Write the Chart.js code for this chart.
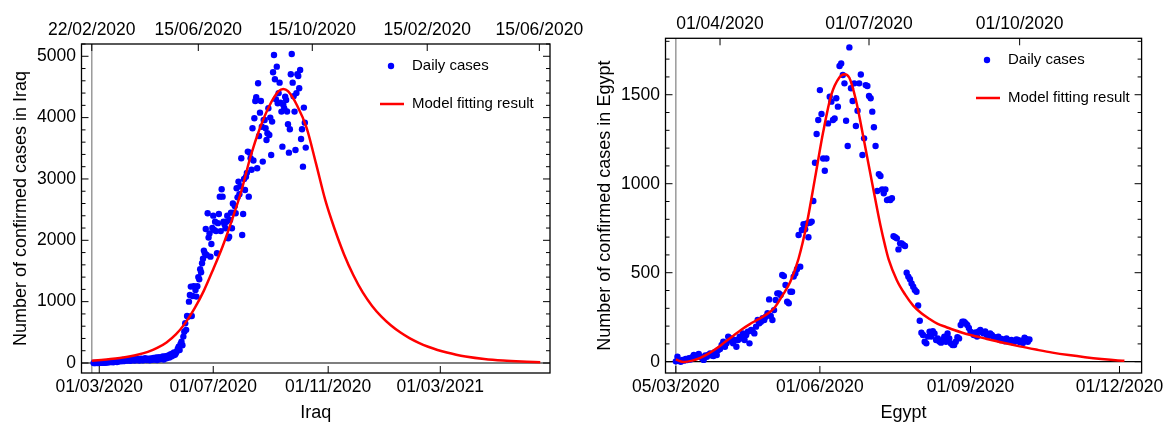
<!DOCTYPE html>
<html>
<head>
<meta charset="utf-8">
<script src="https://cdn.jsdelivr.net/npm/chart.js@4.4.1/dist/chart.umd.min.js"></script>
<style>
  body { margin: 0; background: #fff; }
  .panel { position: absolute; top: 0; width: 584px; height: 424px; }
</style>
</head>
<body>
<div class="panel" style="left:0"><canvas id="iraqChart" width="584" height="424"></canvas></div>
<div class="panel" style="left:584px"><canvas id="egyptChart" width="584" height="424"></canvas></div>
<script>
// ---- Iraq (day 0 = 22/02/2020) ----
const iraqStartDay = 2;
const iraqCases = [
  0, 1, 0, 2, 0, 3, 1, 5,
  4, 8, 2, 10, 6, 13, 9, 16, 11, 20,
  14, 24, 18, 12, 28, 21, 30, 17, 26, 33,
  40, 27, 35, 48, 30, 42, 55, 38, 46, 60,
  52, 36, 64, 45, 58, 70, 41, 62, 55, 48,
  66, 39, 58, 72, 50, 45, 63, 80, 54, 47,
  69, 58, 44, 75, 62, 51, 82, 66, 57, 90,
  48, 73, 95, 61, 84, 70, 105, 58, 88, 112,
  76, 98, 125, 90, 140, 108, 150, 122, 170, 135,
  158, 190, 230, 267, 210, 310, 348, 290, 430, 511,
  647, 540, 767, 755, 1000, 1109, 1245, 767, 1093, 1250,
  1245, 1190, 1082, 1250, 1400, 1364, 1528, 1480, 1625, 1700,
  1832, 1788, 2185, 1760, 2440, 2044, 2110, 1734, 1940, 2200,
  2402, 2169, 2304, 2150, 1788, 2280, 2429, 2712, 2150, 2832,
  2712, 2304, 2260, 2196, 2304, 2400, 2033, 2060, 2330, 2451,
  2196, 2600, 2451, 2560, 2440, 2848, 2700, 2957, 2750, 2880,
  3337, 2087, 2429, 3000, 2821, 3038, 3100, 3446, 2712, 3429,
  3337, 3150, 3826, 3300, 3989, 4272, 4331, 3174, 4560, 3700,
  4081, 4272, 3850, 3283, 3962, 3962, 3826, 3636, 3745, 4152,
  3717, 4000, 3391, 3935, 4739, 5021, 4625, 4299, 4831, 4234,
  4400, 4570, 4244, 4098, 3527, 4206, 4150, 4342, 4288, 4100,
  3891, 3429, 3810, 4706, 5038, 4570, 4350, 4098, 3473, 4400,
  4706, 4679, 4478, 4777, 3652, 3810, 3201, 4163, 3918, 3511
];
const iraqFitDays = [0, 10, 20, 30, 40, 50, 60, 70, 80, 90, 100, 110, 120, 130, 140, 150, 160, 170, 180, 190,
  200, 205, 210, 220, 230, 240, 250, 260, 270, 280, 290, 300, 310, 320, 330, 340, 350, 360, 370, 380, 390, 400,
  420, 440, 460, 480];
const iraqFit = [38, 50, 64, 82, 106, 138, 182, 245, 335, 465, 650, 890, 1180, 1530, 1900, 2330, 2800, 3370, 3830, 4190,
  4430, 4467, 4430, 4190, 3830, 3250, 2650, 2180, 1770, 1430, 1150, 930, 755, 615, 500, 405, 328, 265, 213, 170, 135, 107,
  66, 40, 24, 14];
const iraqBottomTicks = [8, 130, 253, 373];
const iraqBottomLabels = ["01/03/2020", "01/07/2020", "01/11/2020", "01/03/2021"];
const iraqTopTicks = [0, 114, 236, 359, 479];
const iraqTopLabels = ["22/02/2020", "15/06/2020", "15/10/2020", "15/02/2020", "15/06/2020"];
const iraqYTicks = [0, 1000, 2000, 3000, 4000, 5000];

// ---- Egypt (day 0 = 05/03/2020) ----
const egyptStartDay = 0;
const egyptCases = [
  2, 28, 5, 0, 10, 6, 15, 9, 19, 12,
  25, 38, 30, 33, 43, 28, 20, 10, 35, 28,
  40, 47, 35, 32, 55, 38, 66, 72, 94, 113,
  84, 103, 141, 122, 131, 103, 122, 84, 122, 141,
  131, 159, 122, 150, 169, 103, 178, 169, 159, 197,
  234, 216, 225, 244, 234, 253, 272, 350, 257, 234,
  290, 347, 384, 384, 375, 487, 481, 431, 337, 328,
  393, 393, 478, 496, 519, 712, 534, 740, 772, 744,
  777, 699, 781, 787, 903, 1118, 1279, 1358, 1526, 1392,
  1142, 1073, 1142, 1339, 1489, 1461, 1358, 1367, 1480, 1433,
  1661, 1676, 1611, 1564, 1354, 1212, 1766, 1536, 1465, 1564,
  1324, 1410, 1564, 1614, 1161, 1255, 1554, 1549, 1493, 1480,
  1405, 1317, 1212, 959, 1054, 1043, 968, 946, 968, 908,
  912, 908, 918, 705, 699, 693, 631, 665, 665, 656,
  650, 500, 478, 463, 440, 421, 403, 393, 316, 230,
  163, 150, 112, 103, 141, 169, 141, 172, 159, 122,
  131, 113, 107, 122, 141, 112, 159, 131, 103, 94,
  94, 112, 137, 131, 206, 225, 225, 216, 206, 190,
  169, 160, 150, 165, 141, 170, 178, 165, 159, 170,
  150, 145, 159, 150, 141, 135, 131, 140, 122, 128,
  122, 115, 130, 113, 120, 122, 108, 113, 125, 122,
  110, 118, 105, 135, 128, 112, 125
];
const egyptFitDays = [0, 5, 10, 15, 20, 25, 30, 35, 40, 45, 50, 55, 60, 65, 70, 75, 80, 85, 90, 95, 100, 103, 106,
  110, 115, 120, 125, 128, 130, 135, 140, 145, 150, 155, 160, 165, 170, 175, 180, 190, 200, 210, 220, 230, 240, 250,
  260, 270, 274];
const egyptFit = [12, -2, 6, 22, 45, 75, 110, 145, 180, 210, 236, 263, 300, 370, 450, 580, 775, 1030, 1290, 1500,
  1598, 1615, 1595, 1470, 1240, 1000, 765, 645, 575, 458, 378, 315, 272, 240, 212, 195, 178, 163, 150, 128, 106, 86,
  68, 51, 37, 25, 15, 7, 5];
const egyptBottomTicks = [0, 88, 180, 271];
const egyptBottomLabels = ["05/03/2020", "01/06/2020", "01/09/2020", "01/12/2020"];
const egyptTopTicks = [27, 118, 210];
const egyptTopLabels = ["01/04/2020", "01/07/2020", "01/10/2020"];
const egyptYTicks = [0, 500, 1000, 1500];

Chart.defaults.font.family = "'Liberation Sans', Arial, sans-serif";
Chart.defaults.color = "#000";

// frame, inward ticks, origin axes and legend (Mathematica look)
const framePlugin = {
  id: "frame",
  beforeDatasetsDraw(chart, args, opts) {
    const { ctx, chartArea: a, scales } = chart;
    ctx.save();
    const ox = scales.x.getPixelForValue(0);
    ctx.strokeStyle = "#9a9a9a";
    ctx.lineWidth = 1.5;
    ctx.beginPath();
    ctx.moveTo(ox, a.top);
    ctx.lineTo(ox, a.bottom);
    ctx.stroke();
    const oy = scales.y.getPixelForValue(0);
    ctx.strokeStyle = "#000";
    ctx.lineWidth = 1.2;
    ctx.beginPath();
    ctx.moveTo(a.left, oy);
    ctx.lineTo(a.right, oy);
    ctx.stroke();
    ctx.restore();
  },
  afterDatasetsDraw(chart, args, opts) {
    const { ctx, chartArea: a, scales } = chart;
    ctx.save();
    ctx.strokeStyle = "#000";
    ctx.lineWidth = 1.3;
    ctx.strokeRect(a.left, a.top, a.right - a.left, a.bottom - a.top);
    ctx.lineWidth = 1;
    ctx.beginPath();
    scales.x.ticks.forEach((t) => {
      const p = scales.x.getPixelForValue(t.value);
      ctx.moveTo(p, a.bottom);
      ctx.lineTo(p, a.bottom - 7);
    });
    scales.x2.ticks.forEach((t) => {
      const p = scales.x2.getPixelForValue(t.value);
      ctx.moveTo(p, a.top);
      ctx.lineTo(p, a.top + 7);
    });
    const ys = scales.y;
    for (let v = 0; v <= ys.max; v += opts.minorStep) {
      const len = v % opts.majorStep === 0 ? 7 : 4;
      const p = ys.getPixelForValue(v);
      ctx.moveTo(a.left, p);
      ctx.lineTo(a.left + len, p);
      ctx.moveTo(a.right, p);
      ctx.lineTo(a.right - len, p);
    }
    ctx.stroke();

    // legend
    const lx = a.left + opts.legendX;
    const ly = a.top + opts.legendY;
    ctx.fillStyle = "#0000ff";
    ctx.beginPath();
    ctx.arc(lx, ly, 3.2, 0, Math.PI * 2);
    ctx.fill();
    ctx.strokeStyle = "#ff0000";
    ctx.lineWidth = 2.5;
    ctx.beginPath();
    ctx.moveTo(lx - 11, ly + opts.legendGap);
    ctx.lineTo(lx + 13, ly + opts.legendGap);
    ctx.stroke();
    ctx.fillStyle = "#000";
    ctx.font = "15px 'Liberation Sans', Arial, sans-serif";
    ctx.textBaseline = "middle";
    ctx.fillText("Daily cases", lx + 21, ly);
    ctx.fillText("Model fitting result", lx + 21, ly + opts.legendGap);
    ctx.restore();
  },
};

function makeChart(id, c) {
  const points = c.cases.map((v, i) => ({ x: c.start + i, y: v }));
  const fit = c.fitDays.map((d, i) => ({ x: d, y: c.fit[i] }));
  const noGrid = { display: false, drawTicks: false };
  return new Chart(document.getElementById(id), {
    type: "scatter",
    data: {
      datasets: [
        {
          label: "Model fitting result",
          type: "line",
          data: fit,
          borderColor: "#ff0000",
          borderWidth: 2.5,
          pointRadius: 0,
          cubicInterpolationMode: "monotone",
          fill: false,
        },
        {
          label: "Daily cases",
          data: points,
          backgroundColor: "#0000ff",
          borderWidth: 0,
          pointRadius: 3.2,
        },
      ],
    },
    options: {
      responsive: false,
      animation: false,
      layout: { autoPadding: false, padding: { top: 0, left: 0, bottom: 0, right: c.rightPad } },
      plugins: {
        legend: { display: false },
        tooltip: { enabled: false },
        frame: { minorStep: c.minorStep, majorStep: c.majorStep, legendX: c.legendX, legendY: c.legendY, legendGap: c.legendGap },
      },
      scales: {
        x: {
          type: "linear",
          position: "bottom",
          min: c.xMin,
          max: c.xMax,
          grid: noGrid,
          border: { display: false },
          ticks: { font: { size: 17.5 }, padding: 3.5, maxRotation: 0, autoSkip: false, callback: (v, i) => c.bottomLabels[i] },
          afterBuildTicks: (s) => { s.ticks = c.bottomTicks.map((v) => ({ value: v })); },
          afterFit: (s) => { s.height = 51; s.paddingLeft = 0; s.paddingRight = 0; },
          title: { display: true, text: c.name, font: { size: 18 }, padding: { top: 0, bottom: 0 } },
        },
        x2: {
          type: "linear",
          position: "top",
          min: c.xMin,
          max: c.xMax,
          grid: noGrid,
          border: { display: false },
          ticks: { font: { size: 17.5 }, padding: 3.5, maxRotation: 0, autoSkip: false, callback: (v, i) => c.topLabels[i] },
          afterBuildTicks: (s) => { s.ticks = c.topTicks.map((v) => ({ value: v })); },
          afterFit: (s) => { s.height = c.topHeight; s.paddingLeft = 0; s.paddingRight = 0; },
        },
        y: {
          type: "linear",
          position: "left",
          min: c.yMin,
          max: c.yMax,
          grid: noGrid,
          border: { display: false },
          ticks: { font: { size: 17.5 }, padding: 5.5, callback: (v) => String(v) },
          afterBuildTicks: (s) => { s.ticks = c.yTicks.map((v) => ({ value: v })); },
          afterFit: (s) => { s.width = 81.5; s.paddingTop = 0; s.paddingBottom = 0; },
          title: { display: true, text: "Number of confirmed cases in " + c.name, font: { size: 18 }, padding: { top: 10, bottom: 0 } },
        },
      },
    },
    plugins: [framePlugin],
  });
}

makeChart("iraqChart", {
  name: "Iraq",
  start: iraqStartDay, cases: iraqCases, fitDays: iraqFitDays, fit: iraqFit,
  bottomTicks: iraqBottomTicks, bottomLabels: iraqBottomLabels,
  topTicks: iraqTopTicks, topLabels: iraqTopLabels, yTicks: iraqYTicks,
  xMin: -11, xMax: 490.4, yMin: -163, yMax: 5200,
  rightPad: 34, topHeight: 44, minorStep: 200, majorStep: 1000,
  legendX: 309.5, legendY: 22, legendGap: 38,
});

makeChart("egyptChart", {
  name: "Egypt",
  start: egyptStartDay, cases: egyptCases, fitDays: egyptFitDays, fit: egyptFit,
  bottomTicks: egyptBottomTicks, bottomLabels: egyptBottomLabels,
  topTicks: egyptTopTicks, topLabels: egyptTopLabels, yTicks: egyptYTicks,
  xMin: -6.3, xMax: 284.5, yMin: -63.5, yMax: 1817,
  rightPad: 26.4, topHeight: 38.3, minorStep: 100, majorStep: 500,
  legendX: 321.5, legendY: 21.7, legendGap: 38,
});
</script>
</body>
</html>
